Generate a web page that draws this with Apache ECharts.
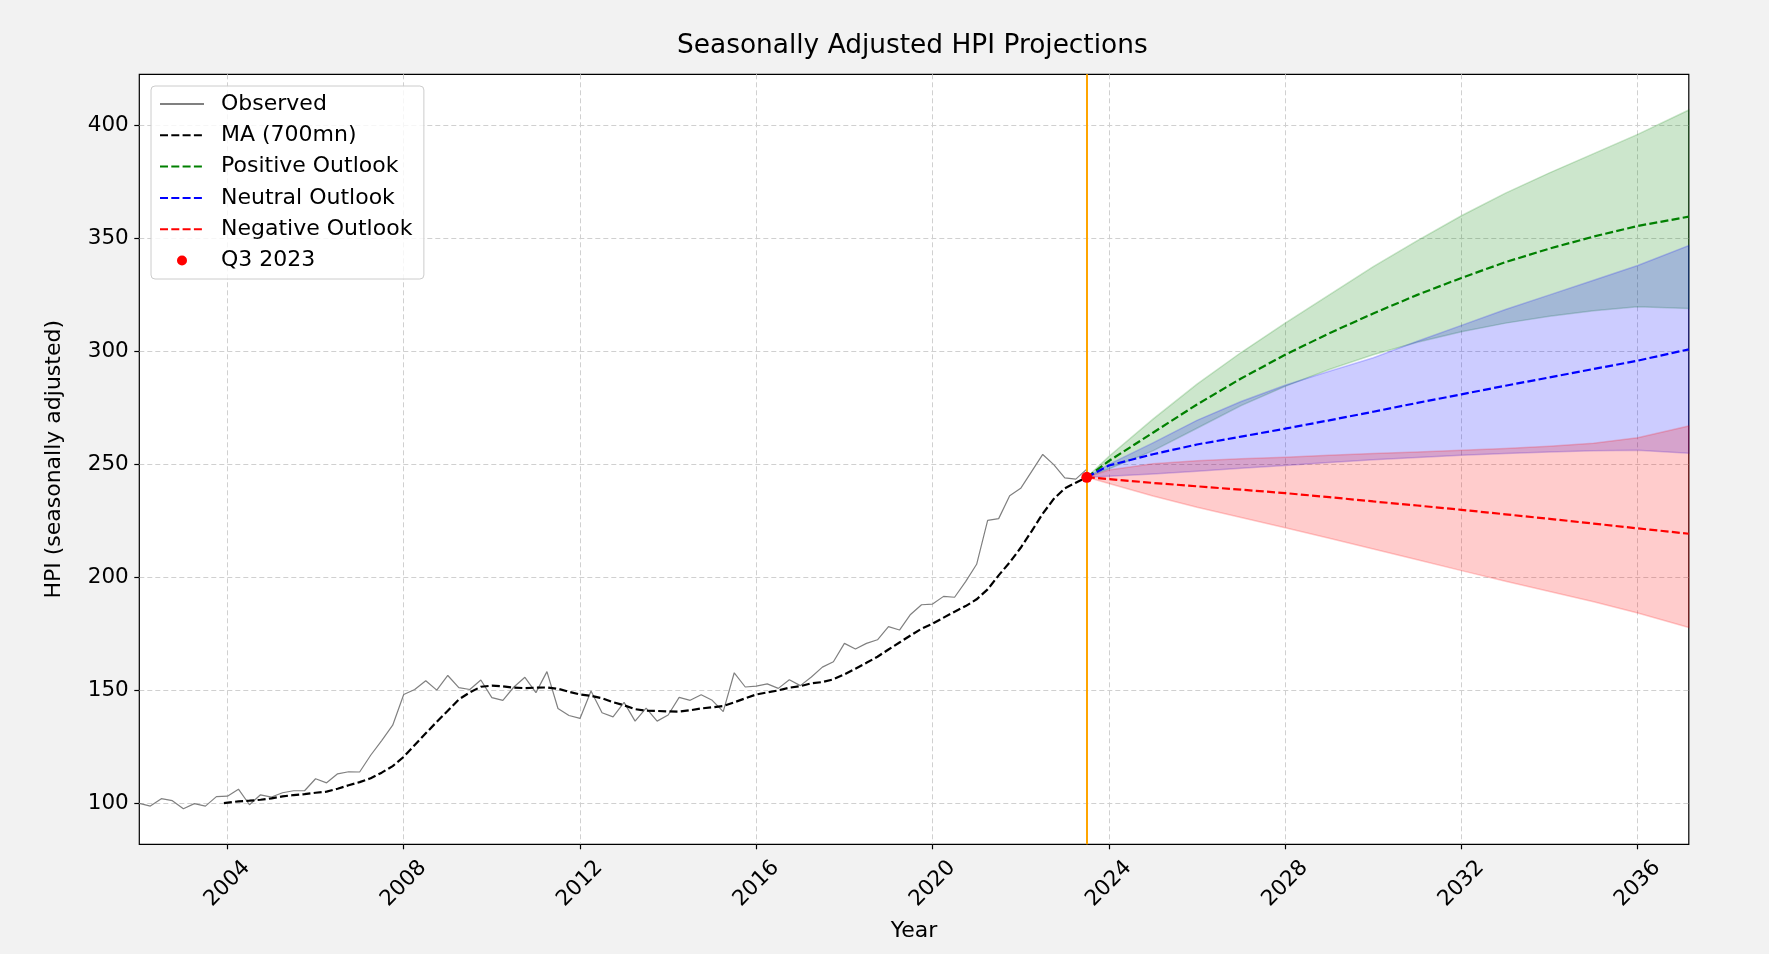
<!DOCTYPE html>
<html>
<head>
<meta charset="utf-8">
<script src="https://cdn.jsdelivr.net/npm/echarts@6/dist/echarts.min.js"></script>
<style>
html,body{margin:0;padding:0;background:#f2f2f2;}
#chart{width:1769px;height:954px;}
</style>
</head>
<body>
<div id="chart"></div>
<script>
// ---------------- DATA ----------------
const observedYears = [
 2002.00,2002.25,2002.50,2002.75,2003.00,2003.25,2003.50,2003.75,
 2004.00,2004.25,2004.50,2004.75,2005.00,2005.25,2005.50,2005.75,
 2006.00,2006.25,2006.50,2006.75,2007.00,2007.25,2007.50,2007.75,
 2008.00,2008.25,2008.50,2008.75,2009.00,2009.25,2009.50,2009.75,
 2010.00,2010.25,2010.50,2010.75,2011.00,2011.25,2011.50,2011.75,
 2012.00,2012.25,2012.50,2012.75,2013.00,2013.25,2013.50,2013.75,
 2014.00,2014.25,2014.50,2014.75,2015.00,2015.25,2015.50,2015.75,
 2016.00,2016.25,2016.50,2016.75,2017.00,2017.25,2017.50,2017.75,
 2018.00,2018.25,2018.50,2018.75,2019.00,2019.25,2019.50,2019.75,
 2020.00,2020.25,2020.50,2020.75,2021.00,2021.25,2021.50,2021.75,
 2022.00,2022.25,2022.50,2022.75,2023.00,2023.25,2023.50
];
const observedValues = [
 100.0, 98.8,102.1,101.2, 97.6, 99.9, 98.8,103.0,
 103.2,106.3, 99.4,103.8,102.8,104.7,105.6,105.6,
 110.9,109.1,113.1,114.0,113.9,121.3,127.8,134.6,
 148.2,150.4,154.3,150.1,156.6,151.2,150.4,154.6,
 146.8,145.6,151.5,155.8,149.0,158.3,142.0,138.9,
 137.6,149.7,140.1,138.3,144.7,136.4,142.2,136.4,
 139.1,146.9,145.6,148.1,145.6,140.6,157.8,151.5,
 151.9,152.9,150.9,154.7,152.1,155.9,160.3,162.7,
 170.8,168.3,170.8,172.4,178.2,176.7,183.6,187.9,
 188.2,191.6,191.2,198.1,205.8,225.2,226.0,236.1,
 239.4,246.9,254.4,249.9,244.0,243.5,247.9
];
const maYears = [
 2003.92,2004.25,2004.50,2004.75,2005.00,2005.25,2005.50,2005.75,
 2006.00,2006.25,2006.50,2006.75,2007.00,2007.25,2007.50,2007.75,
 2008.00,2008.25,2008.50,2008.75,2009.00,2009.25,2009.50,2009.75,
 2010.00,2010.25,2010.50,2010.75,2011.00,2011.25,2011.50,2011.75,
 2012.00,2012.25,2012.50,2012.75,2013.00,2013.25,2013.50,2013.75,
 2014.00,2014.25,2014.50,2014.75,2015.00,2015.25,2015.50,2015.75,
 2016.00,2016.25,2016.50,2016.75,2017.00,2017.25,2017.50,2017.75,
 2018.00,2018.25,2018.50,2018.75,2019.00,2019.25,2019.50,2019.75,
 2020.00,2020.25,2020.50,2020.75,2021.00,2021.25,2021.50,2021.75,
 2022.00,2022.25,2022.50,2022.75,2023.00,2023.25,2023.50
];
const maValues = [
 100.1,100.9,101.2,101.6,102.2,103.1,103.7,104.1,
 104.7,105.2,106.5,108.0,109.4,111.1,113.6,116.5,
 120.6,125.8,131.0,136.1,141.0,146.0,149.1,151.6,
 152.1,151.8,151.2,151.0,151.2,151.3,150.7,149.4,
 148.2,147.6,146.5,144.8,143.4,141.7,141.0,140.9,
 140.7,140.6,141.2,142.0,142.5,143.1,144.7,146.5,
 148.2,149.1,150.0,151.2,151.9,153.1,153.7,154.9,
 157.1,159.6,162.2,164.9,168.1,171.2,174.3,177.3,
 179.5,182.2,184.8,187.3,190.3,194.7,200.9,206.6,
 213.1,220.5,228.2,234.7,239.4,241.9,244.3
];
const projYears    = [2023.5,2024,2025,2026,2027,2028,2029,2030,2031,2032,2033,2034,2035,2036,2037.16];
const positiveMid  = [244.3,251.5,264.0,276.5,288.0,298.5,308.0,316.8,325.0,332.5,339.5,345.5,350.8,355.5,359.6];
const positiveHigh = [244.3,253.5,270.0,285.5,299.5,312.5,325.0,337.5,349.0,360.0,370.0,379.0,387.5,396.0,406.8];
const positiveLow  = [244.3,248.0,256.0,266.0,276.0,284.5,292.0,298.5,304.0,308.7,312.5,315.5,318.0,319.8,319.0];
const neutralMid   = [244.3,249.5,254.5,258.8,262.3,265.8,269.5,273.3,277.2,281.0,284.8,288.5,292.2,295.9,300.9];
const neutralHigh  = [244.3,250.0,259.5,269.5,277.8,285.0,291.2,297.2,304.5,311.5,318.5,325.0,331.5,338.0,346.8];
const neutralLow   = [244.3,244.8,245.8,247.0,248.3,249.5,250.8,252.0,253.0,254.0,254.8,255.5,256.0,256.3,254.9];
const negativeMid  = [244.3,243.5,241.8,240.3,238.8,237.3,235.5,233.6,231.8,229.9,227.9,225.9,223.8,221.7,219.3];
const negativeHigh = [244.3,247.5,250.3,251.6,252.5,253.2,254.0,254.8,255.5,256.2,257.0,258.0,259.3,261.8,267.0];
const negativeLow  = [244.3,241.5,236.0,231.0,226.5,222.0,217.3,212.6,207.8,203.0,198.3,193.8,189.2,184.2,177.8];
const q3Point = [2023.5, 244.3];
const cutoffYear = 2023.5;
const xTicks = [2004,2008,2012,2016,2020,2024,2028,2032,2036];
const yTicks = [100,150,200,250,300,350,400];
const X_MIN = 2002.0, X_MAX = 2037.16, Y_MIN = 81.9, Y_MAX = 422.6;

// ---------------- CHART ----------------
const FONT = 'DejaVu Sans';
const DASH = [8, 3.3];
function pairs(xs, ys){ return xs.map((x,i)=>[x, ys[i]]); }

function bandSeries(xs, lo, hi, rgb){
  return {
    type: 'custom',
    coordinateSystem: 'cartesian2d',
    silent: true,
    z: 2,
    data: xs.map((x,i)=>[x, lo[i], hi[i]]),
    encode: {x: 0, y: [1, 2]},
    renderItem: function(params, api){
      if (params.dataIndex !== 0) return null;
      const pts = [];
      for (let i = 0; i < xs.length; i++) pts.push(api.coord([xs[i], hi[i]]));
      for (let i = xs.length - 1; i >= 0; i--) pts.push(api.coord([xs[i], lo[i]]));
      return {
        type: 'polygon',
        shape: {points: pts},
        style: {fill: 'rgba(' + rgb + ',0.2)', stroke: 'rgba(' + rgb + ',0.2)', lineWidth: 1.5}
      };
    }
  };
}

function dashedLine(name, xs, ys, color){
  return {
    name: name, type: 'line', data: pairs(xs, ys),
    symbol: 'none', showSymbol: false, z: 4, silent: true,
    lineStyle: {color: color, width: 2.2, type: DASH},
    itemStyle: {color: color}
  };
}

const chart = echarts.init(document.getElementById('chart'), null, {renderer: 'canvas'});
const option = {
  animation: false,
  backgroundColor: '#f2f2f2',
  textStyle: {fontFamily: FONT},
  title: {
    text: 'Seasonally Adjusted HPI Projections',
    left: 677, top: 33, padding: 0,
    textStyle: {fontSize: 26.4, fontWeight: 'normal', color: '#000', fontFamily: FONT}
  },
  grid: {
    left: 139.3, right: 80.2, top: 74.3, bottom: 109.7,
    show: true, backgroundColor: '#ffffff', borderColor: '#000', borderWidth: 1.2
  },
  legend: {
    orient: 'vertical', left: 151, top: 86,
    data: [
      {name: 'Observed', itemStyle: {opacity: 0}},
      {name: 'MA (700mn)', itemStyle: {opacity: 0}},
      {name: 'Positive Outlook', itemStyle: {opacity: 0}},
      {name: 'Neutral Outlook', itemStyle: {opacity: 0}},
      {name: 'Negative Outlook', itemStyle: {opacity: 0}},
      {name: 'Q3 2023', icon: 'circle', itemStyle: {opacity: 1}}
    ],
    itemWidth: 44, itemHeight: 10, itemGap: 9.3,
    padding: [7, 11.5, 7.5, 8],
    backgroundColor: 'rgba(255,255,255,0.8)', borderColor: '#cccccc', borderWidth: 1, borderRadius: 4,
    selectedMode: false,
    textStyle: {fontSize: 22, lineHeight: 22, color: '#000', fontFamily: FONT, padding: [0, 0, 0, 12]}
  },
  xAxis: {
    type: 'value', min: X_MIN, max: X_MAX,
    name: 'Year', nameLocation: 'middle', nameGap: 76,
    nameTextStyle: {fontSize: 22, color: '#000', fontFamily: FONT},
    axisLine: {show: false},
    axisTick: {show: true, customValues: xTicks, length: 5, lineStyle: {color: '#000', width: 1.2}},
    axisLabel: {
      customValues: xTicks, rotate: 45, align: 'center', verticalAlign: 'middle', margin: 39.5,
      fontSize: 21.5, color: '#000', fontFamily: FONT,
      formatter: function(v){ return String(v); }
    },
    splitLine: {show: true, lineStyle: {color: '#d0d0d0', width: 1, type: [5, 3]}}
  },
  yAxis: {
    type: 'value', min: Y_MIN, max: Y_MAX,
    name: 'HPI (seasonally adjusted)', nameLocation: 'middle', nameGap: 74, nameRotate: 90,
    nameTextStyle: {fontSize: 22, color: '#000', fontFamily: FONT},
    axisLine: {show: false},
    axisTick: {show: true, customValues: yTicks, length: 5, lineStyle: {color: '#000', width: 1.2}},
    axisLabel: {
      customValues: yTicks, margin: 10.5,
      fontSize: 21.5, color: '#000', fontFamily: FONT,
      formatter: function(v){ return String(v); }
    },
    splitLine: {show: true, lineStyle: {color: '#d0d0d0', width: 1, type: [5, 3]}}
  },
  series: [
    bandSeries(projYears, positiveLow, positiveHigh, '0,128,0'),
    bandSeries(projYears, neutralLow, neutralHigh, '0,0,255'),
    bandSeries(projYears, negativeLow, negativeHigh, '255,0,0'),
    {
      name: 'Observed', type: 'line', data: pairs(observedYears, observedValues),
      symbol: 'none', showSymbol: false, z: 3, silent: true,
      lineStyle: {color: '#808080', width: 1.2},
      itemStyle: {color: '#808080'},
      markLine: {
        silent: true, symbol: 'none', z: 5,
        label: {show: false},
        lineStyle: {color: '#ffa500', width: 2, type: 'solid'},
        data: [{xAxis: cutoffYear}]
      }
    },
    dashedLine('MA (700mn)', maYears, maValues, '#000000'),
    dashedLine('Positive Outlook', projYears, positiveMid, '#008000'),
    dashedLine('Neutral Outlook', projYears, neutralMid, '#0000ff'),
    dashedLine('Negative Outlook', projYears, negativeMid, '#ff0000'),
    {
      name: 'Q3 2023', type: 'scatter', data: [q3Point],
      symbol: 'circle', symbolSize: 11, z: 10, silent: true,
      itemStyle: {color: '#ff0000', opacity: 1}
    }
  ]
};
chart.setOption(option);
</script>
</body>
</html>
